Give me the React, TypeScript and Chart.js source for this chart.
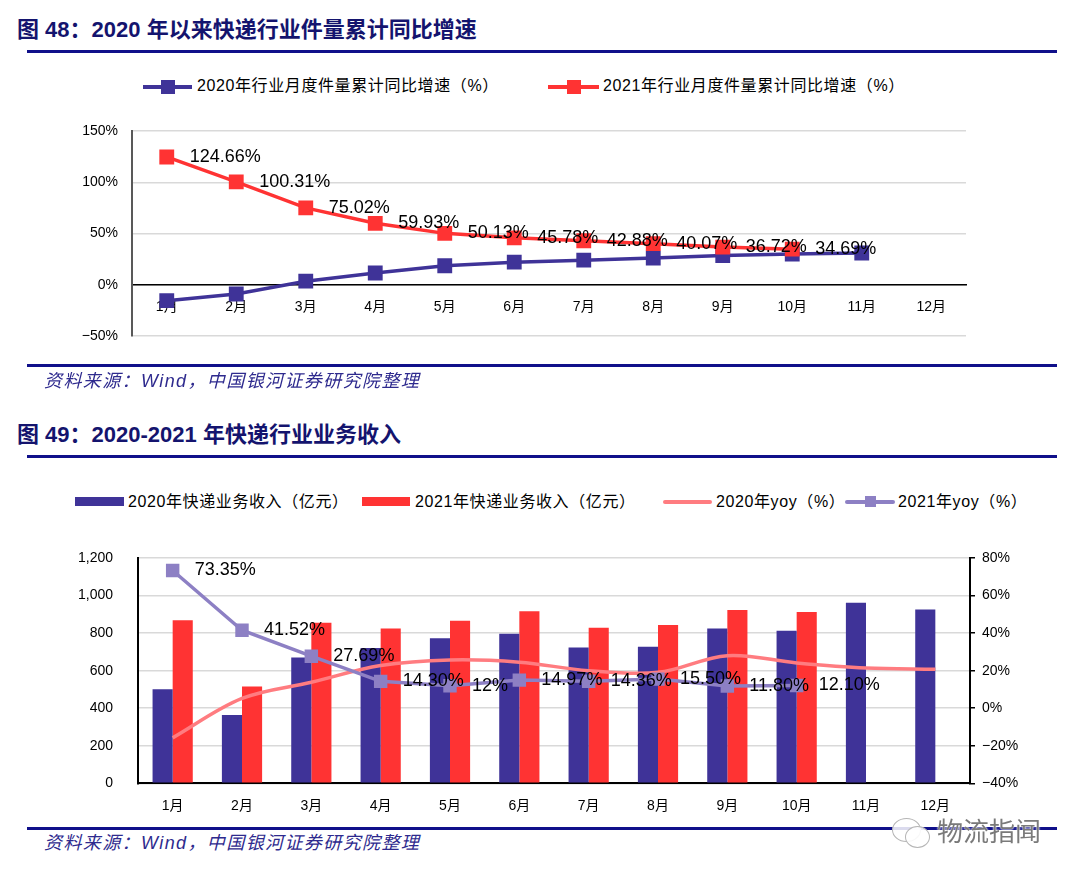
import React, { useEffect, useRef } from 'react';
import { Chart, registerables } from 'chart.js';

Chart.register(...registerables);

// ---------- data ----------
const months = ['1月', '2月', '3月', '4月', '5月', '6月', '7月', '8月', '9月', '10月', '11月', '12月'];

// Figure 48: cumulative YoY growth of parcel volume (%)
const growth2020 = [-15.5, -9, 3.5, 11.5, 18.5, 22, 24, 26, 28.5, 30, 31, null];
const growth2021 = [124.66, 100.31, 75.02, 59.93, 50.13, 45.78, 42.88, 40.07, 36.72, 34.69, null, null];
const growth2021Labels = ['124.66%', '100.31%', '75.02%', '59.93%', '50.13%', '45.78%', '42.88%', '40.07%', '36.72%', '34.69%', null, null];
const growthTickMin = -50;
const growthTickMax = 150;
const growthTickStep = 50;

// Figure 49: express business revenue (亿元) and YoY (%)
const revenue2020 = [501, 364, 670, 720, 773, 796, 723, 727, 825, 812, 962, 926];
const revenue2021 = [869, 515, 855, 825, 866, 917, 828, 843, 923, 912, null, null];
const yoy2020 = [-15.8, 5.2, 13.8, 22.7, 25.7, 24.5, 20, 19.1, 28, 24.1, 21.4, 20.7];
const yoy2021 = [73.35, 41.52, 27.69, 14.3, 12, 14.97, 14.36, 15.5, 11.8, 12.1, null, null];
const yoy2021Labels = ['73.35%', '41.52%', '27.69%', '14.30%', '12%', '14.97%', '14.36%', '15.50%', '11.80%', '12.10%', null, null];
const revenueTickMax = 1200;
const revenueTickStep = 200;
const yoyTickMin = -40;
const yoyTickMax = 80;
const yoyTickStep = 20;

// ---------- styles ----------
const NAVY = '#14146e';
const RULE = '#10108a';
const BLUE = '#3f3398';
const RED = '#ff3333';
const PINK = '#ff7c80';
const PURPLE = '#8d80c4';
const FONT = "'Liberation Sans', 'Noto Sans CJK SC', sans-serif";

const pointLabelsPlugin = {
  id: 'pointLabels',
  afterDatasetsDraw(chart: any, _args: any, opts: any) {
    if (!opts || !opts.labels) return;
    const meta = chart.getDatasetMeta(opts.datasetIndex);
    const ctx = chart.ctx;
    ctx.save();
    ctx.font = opts.font;
    ctx.fillStyle = '#000';
    ctx.textAlign = 'left';
    ctx.textBaseline = 'middle';
    meta.data.forEach((pt: any, j: number) => {
      const t = opts.labels[j];
      if (t == null || pt.skip) return;
      ctx.fillText(t, pt.x + opts.dx, pt.y + opts.dy);
    });
    ctx.restore();
  },
};

const fixVertical = (width: number) => (s: any) => {
  s.width = width;
  s.paddingTop = 8;
  s.paddingBottom = 8;
};

function GrowthChart() {
  const ref = useRef<HTMLCanvasElement>(null);
  useEffect(() => {
    const chart = new Chart(ref.current as HTMLCanvasElement, {
      type: 'line',
      data: {
        labels: months,
        datasets: [
          {
            label: '2020年行业月度件量累计同比增速（%）',
            data: growth2020,
            borderColor: BLUE,
            backgroundColor: BLUE,
            borderWidth: 3.5,
            pointStyle: 'rect',
            pointRadius: 10.5,
            pointBorderWidth: 0,
            tension: 0,
            order: 1,
          },
          {
            label: '2021年行业月度件量累计同比增速（%）',
            data: growth2021,
            borderColor: RED,
            backgroundColor: RED,
            borderWidth: 3.5,
            pointStyle: 'rect',
            pointRadius: 10.5,
            pointBorderWidth: 0,
            tension: 0,
            order: 0,
          },
        ],
      },
      options: {
        animation: false,
        responsive: false,
        layout: { padding: { top: 21, bottom: 34, left: 0, right: 114 } },
        plugins: {
          legend: { display: false },
          tooltip: { enabled: false },
          pointLabels: { datasetIndex: 1, labels: growth2021Labels, dx: 23, dy: 0, font: `18px ${FONT}` },
        } as any,
        scales: {
          x: {
            type: 'category',
            offset: true,
            position: { y: 0 } as any,
            grid: { display: false, drawTicks: false },
            border: { display: true, color: '#000', width: 1.5 },
            ticks: { padding: 14, color: '#000', font: { family: FONT, size: 14 }, maxRotation: 0, autoSkip: false },
          },
          y: {
            min: growthTickMin,
            max: growthTickMax,
            ticks: {
              stepSize: growthTickStep,
              padding: 14,
              color: '#000',
              font: { family: FONT, size: 14 },
              callback: (v: any) => (v < 0 ? '−' + Math.abs(v) : v) + '%',
            },
            grid: { color: '#d9d9d9', lineWidth: 1.5, drawTicks: false },
            border: { color: '#595959', width: 2 },
            afterFit: fixVertical(132),
          },
        },
      },
      plugins: [pointLabelsPlugin],
    });
    return () => chart.destroy();
  }, []);
  return <canvas ref={ref} width={1080} height={260} style={{ position: 'absolute', left: 0, top: 110 }} />;
}

function RevenueChart() {
  const ref = useRef<HTMLCanvasElement>(null);
  useEffect(() => {
    const chart = new Chart(ref.current as HTMLCanvasElement, {
      type: 'bar',
      data: {
        labels: months,
        datasets: [
          {
            type: 'bar',
            label: '2020年快递业务收入（亿元）',
            data: revenue2020,
            backgroundColor: BLUE,
            yAxisID: 'y',
            barPercentage: 1,
            categoryPercentage: 0.58,
            order: 2,
          },
          {
            type: 'bar',
            label: '2021年快递业务收入（亿元）',
            data: revenue2021,
            backgroundColor: RED,
            yAxisID: 'y',
            barPercentage: 1,
            categoryPercentage: 0.58,
            order: 2,
          },
          {
            type: 'line',
            label: '2020年yoy（%）',
            data: yoy2020,
            borderColor: PINK,
            backgroundColor: PINK,
            borderWidth: 3.5,
            pointRadius: 0,
            tension: 0.35,
            yAxisID: 'y1',
            order: 1,
          },
          {
            type: 'line',
            label: '2021年yoy（%）',
            data: yoy2021,
            borderColor: PURPLE,
            backgroundColor: PURPLE,
            borderWidth: 3.5,
            pointStyle: 'rect',
            pointRadius: 9.5,
            pointBorderWidth: 0,
            tension: 0,
            yAxisID: 'y1',
            order: 0,
          },
        ] as any,
      },
      options: {
        animation: false,
        responsive: false,
        layout: { padding: { top: 18, bottom: 0, left: 0, right: 0 } },
        plugins: {
          legend: { display: false },
          tooltip: { enabled: false },
          pointLabels: { datasetIndex: 3, labels: yoy2021Labels, dx: 22, dy: 0, font: `18px ${FONT}` },
        } as any,
        scales: {
          x: {
            offset: true,
            grid: { display: false, drawTicks: false },
            border: { color: '#000', width: 2 },
            ticks: { padding: 14, color: '#000', font: { family: FONT, size: 14 }, maxRotation: 0, autoSkip: false },
            afterFit: (s: any) => {
              s.height = 46.7;
            },
          },
          y: {
            position: 'left',
            min: 0,
            max: revenueTickMax,
            ticks: {
              stepSize: revenueTickStep,
              padding: 25,
              color: '#000',
              font: { family: FONT, size: 14 },
              callback: (v: any) => Number(v).toLocaleString('en-US'),
            },
            grid: { color: '#d9d9d9', lineWidth: 1.5, drawTicks: false },
            border: { color: '#000', width: 2 },
            afterFit: fixVertical(138),
          },
          y1: {
            position: 'right',
            min: yoyTickMin,
            max: yoyTickMax,
            ticks: {
              stepSize: yoyTickStep,
              padding: 7,
              color: '#000',
              font: { family: FONT, size: 14 },
              callback: (v: any) => (v < 0 ? '−' + Math.abs(v) : v) + '%',
            },
            grid: { drawOnChartArea: false, drawTicks: true, tickLength: 5, color: '#000', lineWidth: 1.5 },
            border: { color: '#000', width: 2 },
            afterFit: fixVertical(110),
          },
        },
      },
      plugins: [pointLabelsPlugin],
    });
    return () => chart.destroy();
  }, []);
  return <canvas ref={ref} width={1080} height={290} style={{ position: 'absolute', left: 0, top: 540 }} />;
}

const abs = (s: React.CSSProperties): React.CSSProperties => ({ position: 'absolute', ...s });

function Txt({ left, cy, size, children, style }: any) {
  return (
    <div style={abs({ left, top: cy - 13, lineHeight: '26px', height: 26, fontSize: size, whiteSpace: 'nowrap', color: '#000', ...style })}>
      {children}
    </div>
  );
}

const legendStyle = { letterSpacing: '0.6px' };
const sourceStyle = { fontStyle: 'italic', color: '#2e2a8e', letterSpacing: '1.4px' };
const titleStyle = { fontWeight: 'bold', color: NAVY };

export default function App() {
  return (
    <div style={abs({ left: 0, top: 0, width: 1080, height: 881, background: '#fff', fontFamily: FONT, overflow: 'hidden' })}>
      {/* Figure 48 header */}
      <Txt left={17} cy={30} size={22} style={titleStyle}>
        图 48：2020 年以来快递行业件量累计同比增速
      </Txt>
      <div style={abs({ left: 27, top: 50, width: 1030, height: 3, background: RULE })} />

      {/* legend 1 */}
      <div style={abs({ left: 143, top: 85, width: 49, height: 3.5, background: BLUE })} />
      <div style={abs({ left: 161, top: 80, width: 14, height: 14, background: BLUE })} />
      <Txt left={197} cy={86} size={16} style={legendStyle}>2020年行业月度件量累计同比增速（%）</Txt>
      <div style={abs({ left: 548, top: 85, width: 51, height: 3.5, background: RED })} />
      <div style={abs({ left: 567, top: 80, width: 14, height: 14, background: RED })} />
      <Txt left={603} cy={86} size={16} style={legendStyle}>2021年行业月度件量累计同比增速（%）</Txt>

      <GrowthChart />

      <div style={abs({ left: 27, top: 364, width: 1030, height: 3, background: RULE })} />
      <Txt left={44} cy={381} size={18} style={sourceStyle}>
        资料来源：Wind，中国银河证券研究院整理
      </Txt>

      {/* Figure 49 header */}
      <Txt left={17} cy={435} size={22} style={titleStyle}>
        图 49：2020-2021 年快递行业业务收入
      </Txt>
      <div style={abs({ left: 27, top: 455, width: 1030, height: 3, background: RULE })} />

      {/* legend 2 */}
      <div style={abs({ left: 75, top: 497, width: 49, height: 9, background: BLUE })} />
      <Txt left={128} cy={502} size={16} style={legendStyle}>2020年快递业务收入（亿元）</Txt>
      <div style={abs({ left: 362, top: 497, width: 48, height: 9, background: RED })} />
      <Txt left={415} cy={502} size={16} style={legendStyle}>2021年快递业务收入（亿元）</Txt>
      <div style={abs({ left: 663, top: 500, width: 49, height: 4, background: PINK, borderRadius: 2 })} />
      <Txt left={716} cy={502} size={16} style={legendStyle}>2020年yoy（%）</Txt>
      <div style={abs({ left: 845, top: 500, width: 50, height: 4, background: PURPLE, borderRadius: 2 })} />
      <div style={abs({ left: 865, top: 496, width: 11, height: 11, background: PURPLE })} />
      <Txt left={898} cy={502} size={16} style={legendStyle}>2021年yoy（%）</Txt>

      <RevenueChart />

      <div style={abs({ left: 27, top: 827, width: 1030, height: 3, background: RULE })} />
      <Txt left={44} cy={843} size={18} style={sourceStyle}>
        资料来源：Wind，中国银河证券研究院整理
      </Txt>

      {/* watermark */}
      <div style={abs({ left: 892, top: 818, width: 27, height: 22, borderRadius: '50%', border: '1.5px solid #b5b5b5', background: 'rgba(255,255,255,0.85)' })} />
      <div style={abs({ left: 905, top: 826, width: 23, height: 20, borderRadius: '50%', border: '1.5px solid #b5b5b5', background: 'rgba(255,255,255,0.9)' })} />
      <Txt left={937} cy={832} size={26} style={{ color: '#7a7a7a', textShadow: '0 0 2px #fff, 0 0 2px #fff' }}>
        物流指闻
      </Txt>
    </div>
  );
}
